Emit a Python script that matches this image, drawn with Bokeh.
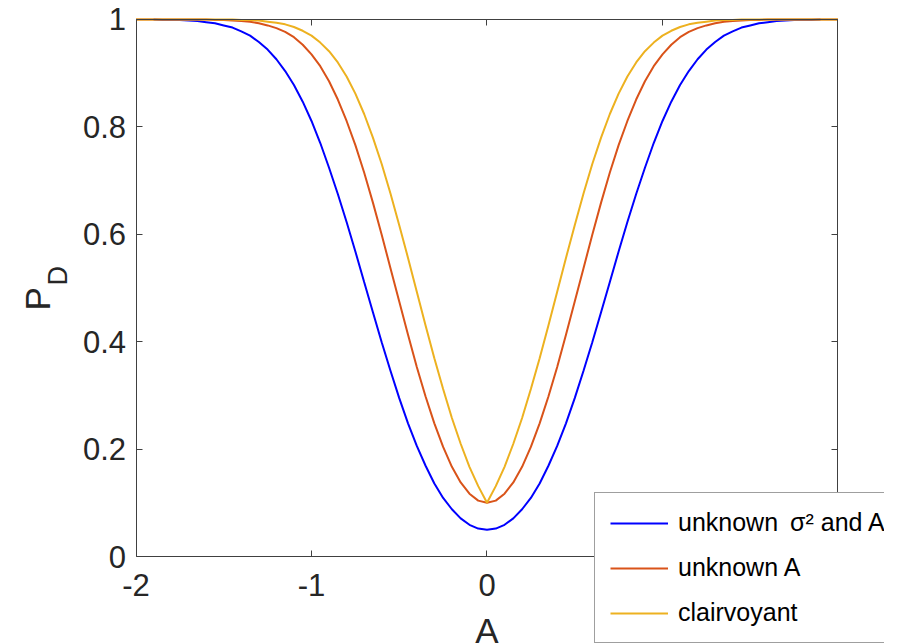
from math import pi
from bokeh.plotting import figure
from bokeh.models import Range1d, FixedTicker, Label, Legend, LegendItem, LinearAxis
from bokeh.embed import file_html
from bokeh.resources import INLINE

# ---- data ----
A_vals = [-2.0, -1.95, -1.9, -1.85, -1.8, -1.75, -1.7, -1.65, -1.6, -1.55,
          -1.5, -1.45, -1.4, -1.35, -1.3, -1.25, -1.2, -1.15, -1.1, -1.05,
          -1.0, -0.95, -0.9, -0.85, -0.8, -0.75, -0.7, -0.65, -0.6, -0.55,
          -0.5, -0.45, -0.4, -0.35, -0.3, -0.25, -0.2, -0.15, -0.1, -0.05,
          0.0,
          0.05, 0.1, 0.15, 0.2, 0.25, 0.3, 0.35, 0.4, 0.45, 0.5,
          0.55, 0.6, 0.65, 0.7, 0.75, 0.8, 0.85, 0.9, 0.95, 1.0,
          1.05, 1.1, 1.15, 1.2, 1.25, 1.3, 1.35, 1.4, 1.45, 1.5,
          1.55, 1.6, 1.65, 1.7, 1.75, 1.8, 1.85, 1.9, 1.95, 2.0]

pd_clairvoyant = [1.0, 1.0, 1.0, 1.0, 1.0, 1.0, 1.0, 1.0, 1.0, 1.0,
                  1.0, 1.0, 0.999, 0.999, 0.998, 0.996, 0.994, 0.991, 0.986, 0.979,
                  0.970, 0.957, 0.941, 0.920, 0.894, 0.862, 0.824, 0.780, 0.731, 0.676,
                  0.617, 0.556, 0.493, 0.430, 0.369, 0.312, 0.258, 0.210, 0.167, 0.131,
                  0.100,
                  0.131, 0.167, 0.210, 0.258, 0.312, 0.369, 0.430, 0.493, 0.556, 0.617,
                  0.676, 0.731, 0.780, 0.824, 0.862, 0.894, 0.920, 0.941, 0.957, 0.970,
                  0.979, 0.986, 0.991, 0.994, 0.996, 0.998, 0.999, 0.999, 1.0, 1.0,
                  1.0, 1.0, 1.0, 1.0, 1.0, 1.0, 1.0, 1.0, 1.0, 1.0]

pd_unknown_A = [1.0, 1.0, 1.0, 1.0, 1.0, 1.0, 1.0, 1.0, 1.0, 0.999,
                0.999, 0.998, 0.997, 0.996, 0.993, 0.989, 0.984, 0.977, 0.967, 0.953,
                0.935, 0.913, 0.885, 0.851, 0.811, 0.766, 0.715, 0.659, 0.599, 0.537,
                0.475, 0.413, 0.353, 0.298, 0.248, 0.204, 0.167, 0.138, 0.117, 0.104,
                0.100,
                0.104, 0.117, 0.138, 0.167, 0.204, 0.248, 0.298, 0.353, 0.413, 0.475,
                0.537, 0.599, 0.659, 0.715, 0.766, 0.811, 0.851, 0.885, 0.913, 0.935,
                0.953, 0.967, 0.977, 0.984, 0.989, 0.993, 0.996, 0.997, 0.998, 0.999,
                0.999, 1.0, 1.0, 1.0, 1.0, 1.0, 1.0, 1.0, 1.0, 1.0]

A_blue = [-1.9, -1.85, -1.8, -1.75, -1.7, -1.65, -1.6, -1.55,
          -1.5, -1.45, -1.4, -1.35, -1.3, -1.25, -1.2, -1.15, -1.1, -1.05,
          -1.0, -0.95, -0.9, -0.85, -0.8, -0.75, -0.7, -0.65, -0.6, -0.55,
          -0.5, -0.45, -0.4, -0.35, -0.3, -0.25, -0.2, -0.15, -0.1, -0.05,
          0.0,
          0.05, 0.1, 0.15, 0.2, 0.25, 0.3, 0.35, 0.4, 0.45, 0.5,
          0.55, 0.6, 0.65, 0.7, 0.75, 0.8, 0.85, 0.9, 0.95, 1.0,
          1.05, 1.1, 1.15, 1.2, 1.25, 1.3, 1.35, 1.4, 1.45, 1.5,
          1.55, 1.6, 1.65, 1.7, 1.75, 1.8, 1.85, 1.9]

pd_unknown_s2_A = [1.0, 0.999, 0.999, 0.999, 0.998, 0.997, 0.995, 0.993,
                   0.989, 0.985, 0.978, 0.970, 0.958, 0.944, 0.926, 0.904, 0.878, 0.847,
                   0.811, 0.770, 0.724, 0.675, 0.623, 0.568, 0.511, 0.455, 0.399, 0.346,
                   0.295, 0.248, 0.206, 0.169, 0.136, 0.109, 0.088, 0.071, 0.059, 0.052,
                   0.050,
                   0.052, 0.059, 0.071, 0.088, 0.109, 0.136, 0.169, 0.206, 0.248, 0.295,
                   0.346, 0.399, 0.455, 0.511, 0.568, 0.623, 0.675, 0.724, 0.770, 0.811,
                   0.847, 0.878, 0.904, 0.926, 0.944, 0.958, 0.970, 0.978, 0.985, 0.989,
                   0.993, 0.995, 0.997, 0.998, 0.999, 0.999, 0.999, 1.0]

x_ticks = [-2, -1, 0, 1, 2]
x_tick_labels = ["-2", "-1", "0", "1", "2"]
y_ticks = [0, 0.2, 0.4, 0.6, 0.8, 1]
y_tick_labels = ["0", "0.2", "0.4", "0.6", "0.8", "1"]

series_labels = ["unknown \u2009\u03c3\u00b2 and A", "unknown A", "clairvoyant"]
series_colors = ["#0000FF", "#D95319", "#EDB120"]

FONT = "Liberation Sans"
DARK = "#262626"
AXIS = "#404040"

# frame covers the whole canvas; the axes box is drawn with fixed-location axes
p = figure(width=884, height=644, output_backend="svg", toolbar_location=None,
           x_range=Range1d(-2.7721, 2.2650), y_range=Range1d(-0.16387, 1.03538),
           x_axis_type=None, y_axis_type=None, min_border=0)
p.outline_line_color = None
p.background_fill_color = "white"
p.border_fill_color = "white"


def make_axis(loc, bounds, ticks, labels, show_labels):
    ax = LinearAxis(fixed_location=loc, bounds=bounds, ticker=FixedTicker(ticks=ticks))
    ax.axis_line_color = AXIS
    ax.axis_line_width = 1
    ax.major_tick_line_color = AXIS
    ax.major_tick_in = 6
    ax.major_tick_out = 0
    ax.minor_tick_line_color = None
    ax.major_label_text_font = FONT
    ax.major_label_text_font_size = "31px"
    ax.major_label_text_color = DARK
    if show_labels:
        ax.major_label_overrides = {t: l for t, l in zip(ticks, labels)}
    else:
        ax.major_label_overrides = {t: "" for t in ticks}
    return ax


x_bottom = make_axis(0, (-2, 2), x_ticks, x_tick_labels, True)
x_bottom.major_label_standoff = 17
y_left = make_axis(-2, (0, 1), y_ticks, y_tick_labels, True)
y_left.major_label_standoff = 10
x_top = make_axis(1, (-2, 2), x_ticks, x_tick_labels, False)
y_right = make_axis(2, (0, 1), y_ticks, y_tick_labels, False)
p.add_layout(x_bottom, "below")
p.add_layout(y_left, "left")
p.add_layout(x_top, "above")
p.add_layout(y_right, "right")

r_blue = p.line(A_blue, pd_unknown_s2_A, line_color=series_colors[0], line_width=2)
r_orange = p.line(A_vals, pd_unknown_A, line_color=series_colors[1], line_width=2)
r_yellow = p.line(A_vals, pd_clairvoyant, line_color=series_colors[2], line_width=2)

legend = Legend(items=[LegendItem(label=series_labels[0], renderers=[r_blue]),
                       LegendItem(label=series_labels[1], renderers=[r_orange]),
                       LegendItem(label=series_labels[2], renderers=[r_yellow])],
                location=(594, 1),
                label_text_font=FONT, label_text_font_size="25px",
                label_text_color="#000000",
                glyph_width=58, glyph_height=28, label_height=28,
                label_standoff=10, spacing=16, padding=15, margin=0,
                border_line_color=AXIS, border_line_width=1,
                background_fill_color="white", background_fill_alpha=1.0)
p.add_layout(legend)

# axis titles
p.add_layout(Label(x=0, y=14, x_units="data", y_units="screen", text="A",
                   text_font=FONT, text_font_size="35px", text_color=DARK,
                   text_align="center", text_baseline="alphabetic"))
p.add_layout(Label(x=37, y=334, x_units="screen", y_units="screen", text="P",
                   angle=pi / 2, text_font=FONT, text_font_size="35px",
                   text_color=DARK, text_align="left", text_baseline="alphabetic"))
p.add_layout(Label(x=57, y=359, x_units="screen", y_units="screen", text="D",
                   angle=pi / 2, text_font=FONT, text_font_size="27px",
                   text_color=DARK, text_align="left", text_baseline="alphabetic"))

open("out.html", "w").write(file_html(p, INLINE))
